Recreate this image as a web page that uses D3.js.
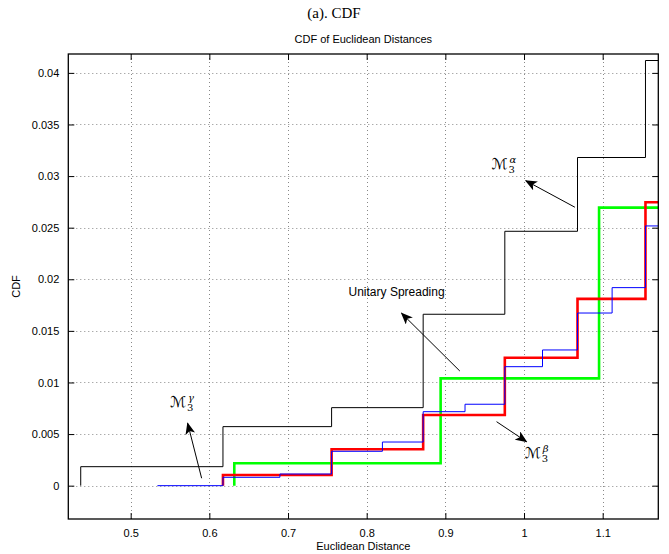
<!DOCTYPE html>
<html>
<head>
<meta charset="utf-8">
<script src="https://cdn.jsdelivr.net/npm/d3@7"></script>
<style>
  body { margin: 0; background: #fff; }
  svg { display: block; }
</style>
</head>
<body>
<svg id="chart" width="669" height="554"></svg>
<script>
// ---- data ----
const xTicks = [0.5, 0.6, 0.7, 0.8, 0.9, 1.0, 1.1];
const xTickLabels = ["0.5", "0.6", "0.7", "0.8", "0.9", "1", "1.1"];
const yTicks = [0, 0.005, 0.01, 0.015, 0.02, 0.025, 0.03, 0.035, 0.04];
const yTickLabels = ["0", "0.005", "0.01", "0.015", "0.02", "0.025", "0.03", "0.035", "0.04"];

const blackStart = 0.4365;
const blackX = [0.4365, 0.6173, 0.7554, 0.8718, 0.9756, 1.068, 1.1544];
const blackY = [0.00184, 0.00572, 0.00756, 0.01661, 0.02465, 0.0318, 0.0412];

const blueStart = 0.534;
const blueX = [0.6173, 0.6897, 0.7554, 0.82, 0.8718, 0.925, 0.9756, 1.0235, 1.068, 1.112, 1.1544];
const blueY = [0.00081, 0.00113, 0.00333, 0.00423, 0.00717, 0.00789, 0.01153, 0.01315, 0.01673, 0.01919, 0.02517];

const redStart = 0.6173;
const redX = [0.6173, 0.7554, 0.8718, 0.9756, 1.068, 1.1544];
const redY = [0.00104, 0.00353, 0.00685, 0.0124, 0.0181, 0.02746];

const greenStart = 0.6317;
const greenX = [0.6317, 0.894, 1.0954];
const greenY = [0.00217, 0.0104, 0.02694];

// annotations (data coordinates)
const annoAlpha = {sup: "α", tx: 0.9587, ty: 0.0307, from: [1.0647, 0.02698], to: [1.0023, 0.02955]};
const annoBeta  = {sup: "β", tx: 1.001, ty: 0.00268, from: [0.9651, 0.0062], to: [1.0032, 0.00426]};
const annoGamma = {sup: "γ", tx: 0.55, ty: 0.00766, from: [0.5902, 0.00072], to: [0.5724, 0.00605]};
const unitary = {text: "Unitary Spreading", tx: 0.838, ty: 0.01838, from: [0.9184, 0.01111], to: [0.8443, 0.01671]};

// ---- layout ----
const plot = {left: 68.3, right: 658.3, top: 54, bottom: 519};
const xDomain = [0.4207, 1.1707];
const yDomain = [-0.00323, 0.04183];

const svg = d3.select("#chart");
const x = d3.scaleLinear().domain(xDomain).range([plot.left, plot.right]);
const y = d3.scaleLinear().domain(yDomain).range([plot.bottom, plot.top]);

const defs = svg.append("defs");
defs.append("clipPath").attr("id", "clip").append("rect")
  .attr("x", plot.left).attr("y", plot.top)
  .attr("width", plot.right - plot.left).attr("height", plot.bottom - plot.top);
defs.append("marker").attr("id", "arrow")
  .attr("viewBox", "0 0 12 10").attr("refX", 11).attr("refY", 5)
  .attr("markerWidth", 12).attr("markerHeight", 10).attr("markerUnits", "userSpaceOnUse")
  .attr("orient", "auto")
  .append("path").attr("d", "M0,0 L12,5 L0,10 L3,5 Z").attr("fill", "#000");

// titles
svg.append("text").attr("x", 334).attr("y", 18).attr("text-anchor", "middle")
  .attr("font-family", "Liberation Serif, Times New Roman, serif").attr("font-size", 15)
  .text("(a). CDF");
svg.append("text").attr("x", (plot.left + plot.right) / 2).attr("y", 43).attr("text-anchor", "middle")
  .attr("font-family", "Liberation Sans, Arial, sans-serif").attr("font-size", 11)
  .text("CDF of Euclidean Distances");

// grid
const grid = svg.append("g").attr("stroke", "#888").attr("stroke-width", 1).attr("stroke-dasharray", "1,3");
grid.selectAll(".gx").data(xTicks).enter().append("line")
  .attr("x1", d => Math.round(x(d)) + 0.5).attr("x2", d => Math.round(x(d)) + 0.5)
  .attr("y1", plot.top).attr("y2", plot.bottom);
grid.selectAll(".gy").data(yTicks).enter().append("line")
  .attr("y1", d => Math.round(y(d)) + 0.5).attr("y2", d => Math.round(y(d)) + 0.5)
  .attr("x1", plot.left).attr("x2", plot.right);

// axes (MATLAB style: inward ticks on all sides)
const fontAx = "Liberation Sans, Arial, sans-serif";
const xAxisB = d3.axisBottom(x).tickValues(xTicks).tickSize(-6).tickPadding(10)
  .tickFormat((d, i) => xTickLabels[i]);
const xAxisT = d3.axisTop(x).tickValues(xTicks).tickSize(-6).tickFormat("");
const yAxisL = d3.axisLeft(y).tickValues(yTicks).tickSize(-6).tickPadding(9)
  .tickFormat((d, i) => yTickLabels[i]);
const yAxisR = d3.axisRight(y).tickValues(yTicks).tickSize(-6).tickFormat("");

function styleAxis(g) {
  g.select(".domain").remove();
  g.selectAll(".tick line").attr("stroke", "#000");
  g.selectAll("text").attr("font-family", fontAx).attr("font-size", 11).attr("fill", "#000");
}
svg.append("g").attr("transform", `translate(0,${plot.bottom})`).call(xAxisB).call(styleAxis);
svg.append("g").attr("transform", `translate(0,${plot.top})`).call(xAxisT).call(styleAxis);
svg.append("g").attr("transform", `translate(${plot.left},0)`).call(yAxisL).call(styleAxis);
svg.append("g").attr("transform", `translate(${plot.right},0)`).call(yAxisR).call(styleAxis);

// axis labels
svg.append("text").attr("x", (plot.left + plot.right) / 2).attr("y", 550).attr("text-anchor", "middle")
  .attr("font-family", fontAx).attr("font-size", 11).text("Euclidean Distance");
svg.append("text").attr("transform", `translate(20,${(plot.top + plot.bottom) / 2}) rotate(-90)`)
  .attr("text-anchor", "middle").attr("font-family", fontAx).attr("font-size", 11).text("CDF");

// step series
function stepPoints(start, xs, ys) {
  const pts = [[start, 0]];
  let prev = 0;
  xs.forEach((xv, i) => { pts.push([xv, prev]); pts.push([xv, ys[i]]); prev = ys[i]; });
  pts.push([xDomain[1], prev]);
  return pts;
}
const line = d3.line().x(d => x(d[0])).y(d => y(d[1]));
const series = [
  {pts: stepPoints(blackStart, blackX, blackY), color: "#000", w: 1},
  {pts: stepPoints(greenStart, greenX, greenY), color: "#00ff00", w: 2.6},
  {pts: stepPoints(redStart, redX, redY), color: "#ff0000", w: 2.6},
  {pts: stepPoints(blueStart, blueX, blueY), color: "#0000ff", w: 1}
];
const gLines = svg.append("g").attr("clip-path", "url(#clip)");
series.forEach(s => {
  gLines.append("path").attr("d", line(s.pts)).attr("fill", "none")
    .attr("stroke", s.color).attr("stroke-width", s.w).attr("stroke-linejoin", "miter");
});

// box
svg.append("rect").attr("x", plot.left).attr("y", plot.top)
  .attr("width", plot.right - plot.left).attr("height", plot.bottom - plot.top)
  .attr("fill", "none").attr("stroke", "#000").attr("stroke-width", 1.3);

// annotations
const gA = svg.append("g");
function arrow(a) {
  gA.append("line").attr("x1", x(a.from[0])).attr("y1", y(a.from[1]))
    .attr("x2", x(a.to[0])).attr("y2", y(a.to[1]))
    .attr("stroke", "#000").attr("stroke-width", 1).attr("marker-end", "url(#arrow)");
}
function mLabel(a) {
  const tx = x(a.tx), ty = y(a.ty);
  gA.append("text").attr("x", tx).attr("y", ty)
    .attr("font-family", "DejaVu Sans, sans-serif").attr("font-size", 15)
    .text("ℳ");
  gA.append("text").attr("x", tx + 18).attr("y", ty - 6)
    .attr("font-family", "DejaVu Serif, serif").attr("font-style", "italic").attr("font-size", 10)
    .text(a.sup);
  gA.append("text").attr("x", tx + 17).attr("y", ty + 4)
    .attr("font-family", "DejaVu Serif, serif").attr("font-size", 10)
    .text("3");
  arrow(a);
}
mLabel(annoAlpha);
mLabel(annoBeta);
mLabel(annoGamma);
gA.append("text").attr("x", x(unitary.tx)).attr("y", y(unitary.ty)).attr("text-anchor", "middle")
  .attr("font-family", fontAx).attr("font-size", 12).text(unitary.text);
arrow(unitary);
</script>
</body>
</html>
